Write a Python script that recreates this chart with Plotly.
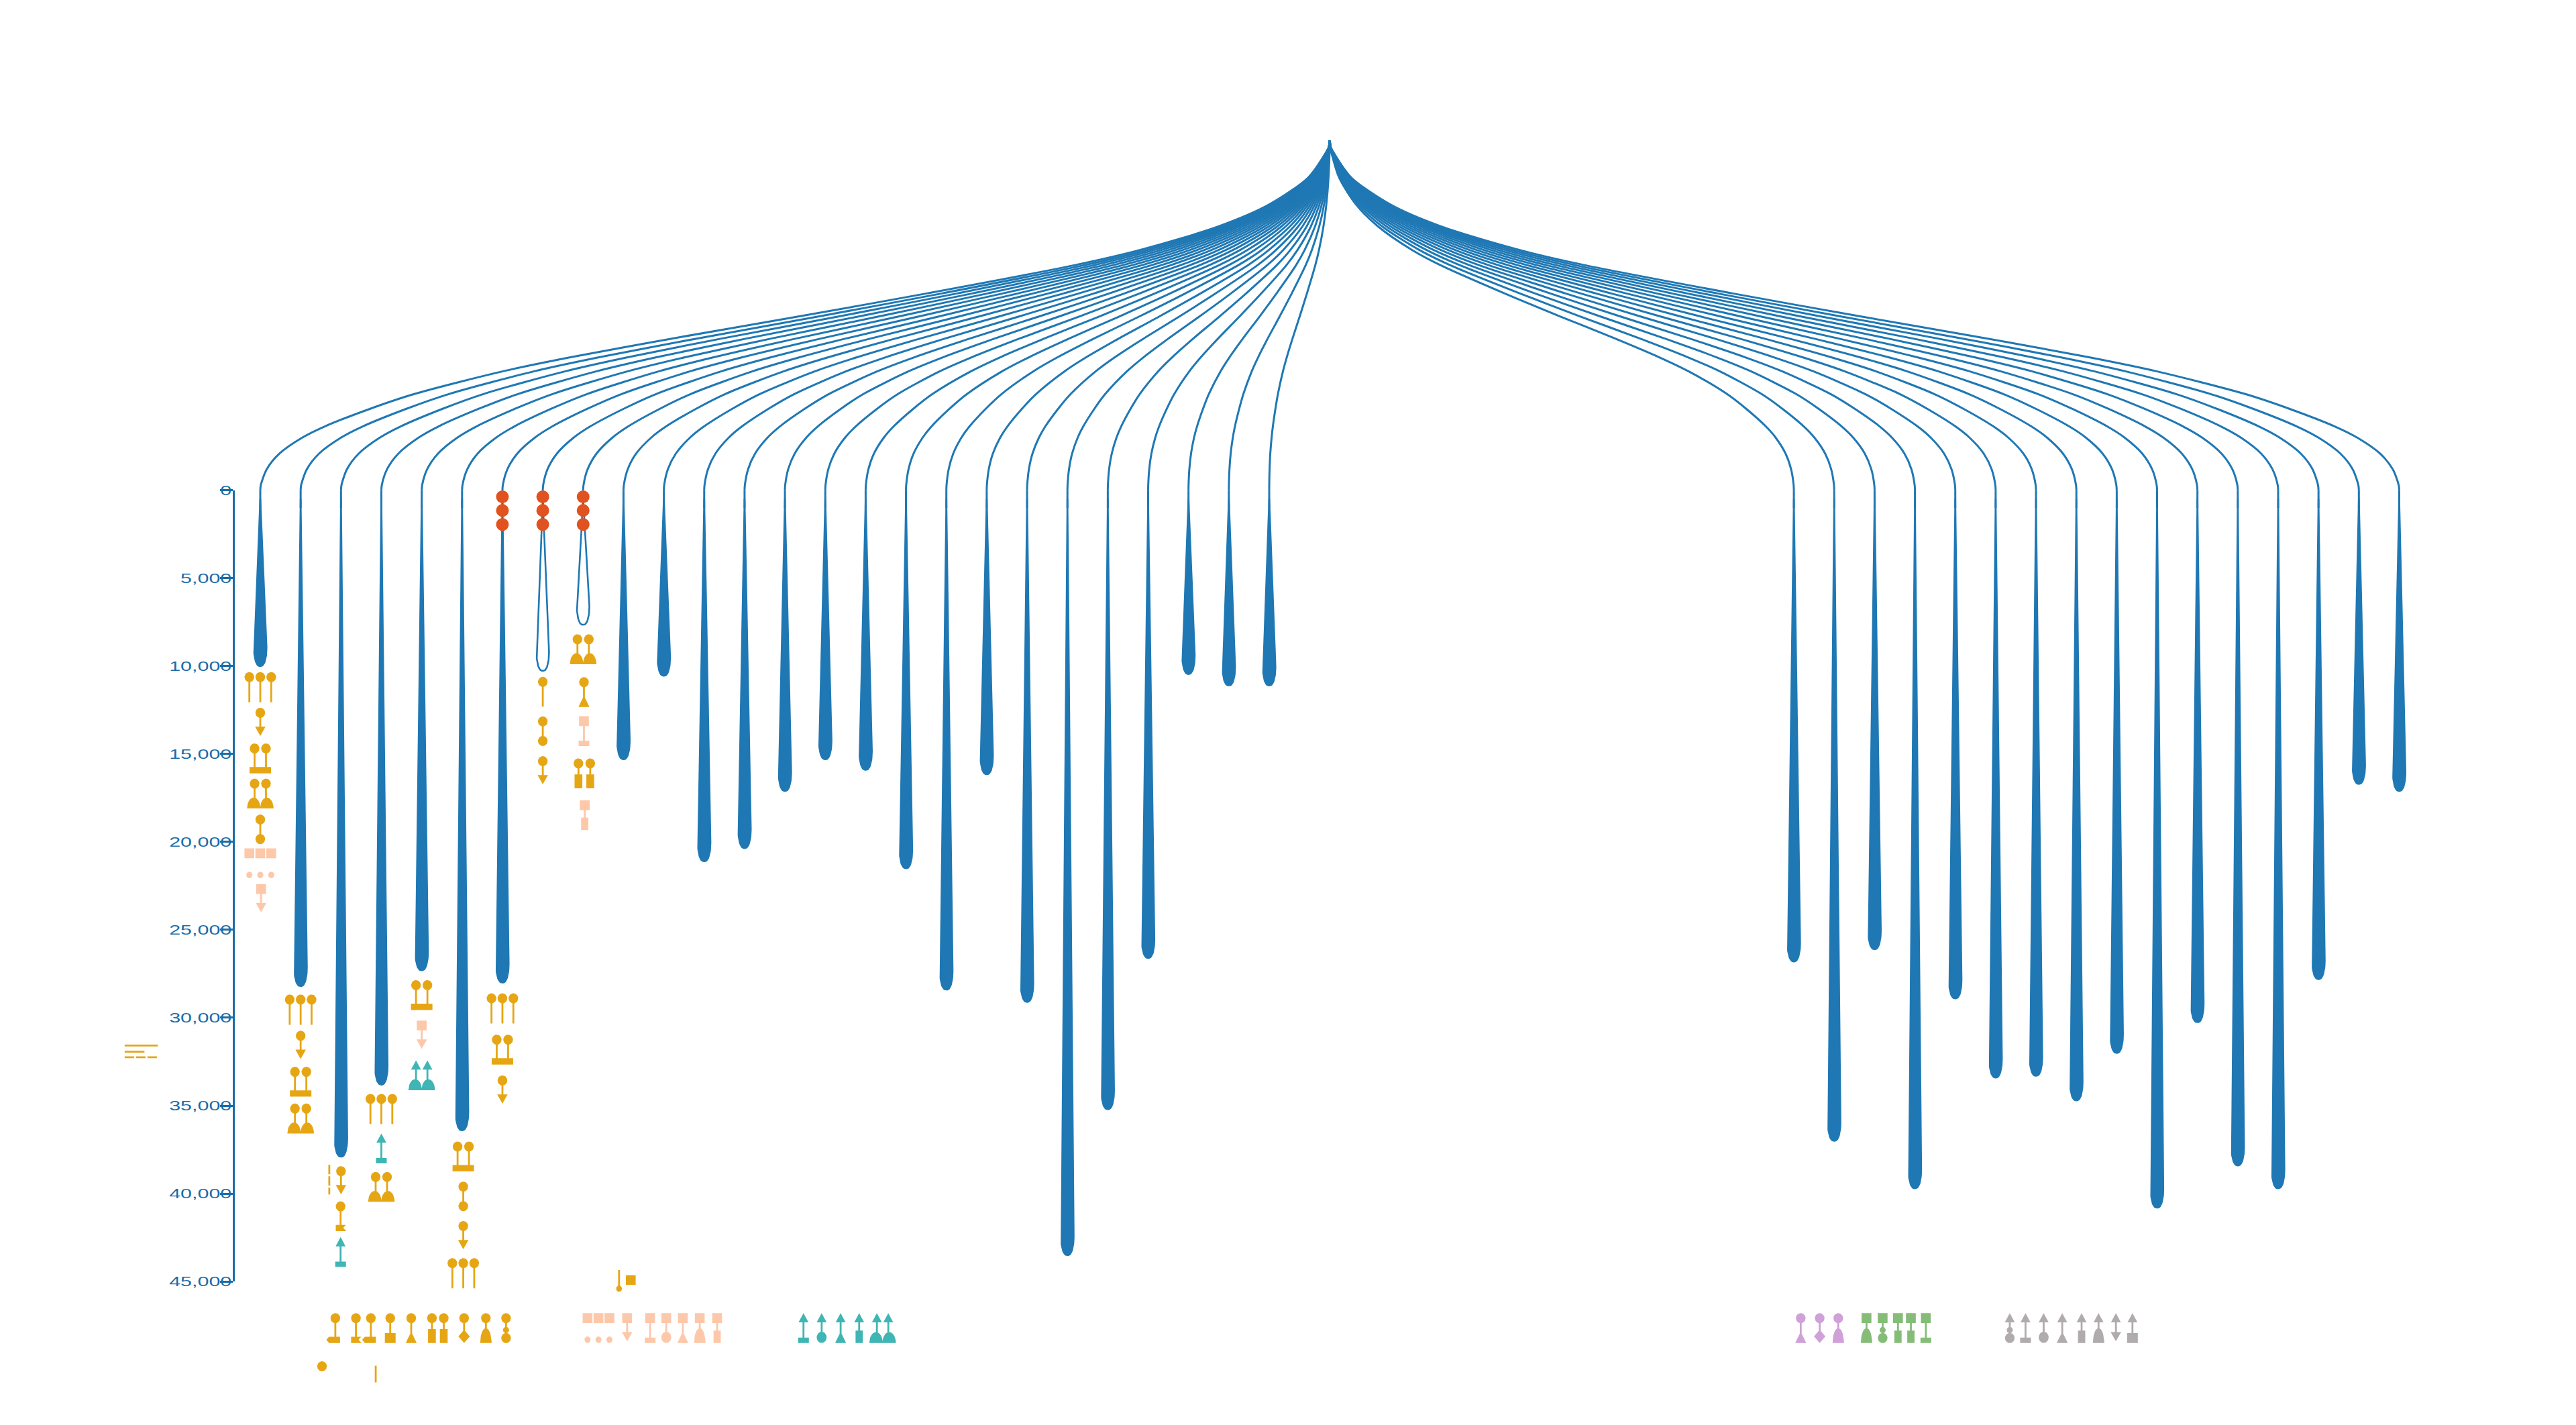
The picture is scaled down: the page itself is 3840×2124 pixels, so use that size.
import math
import plotly.graph_objects as go

# ---------- data ----------
LEFT_SLOTS = list(range(26))
RIGHT_SLOTS = list(range(38, 54))
LEFT_DEPTHS = [10000, 28200, 37900, 33800, 27300, 36400, 28000, 10270, 7650, 15300,
               10550, 21100, 20350, 17100, 15300, 15900, 21500, 28400, 16150, 29100,
               43500, 35200, 26600, 10450, 11100, 11100]
RIGHT_DEPTHS = [26800, 37000, 26100, 39700, 28900, 33400, 33300, 34700, 32000, 40800,
                30250, 38400, 39700, 27800, 16700, 17100]
HOLLOW_SLOTS = [7, 8]
ROOT_SLOT = 26.5
ROOT_VALUE = -19900
LINK_X = [0, .001, .004, .02, .057, .104, .177, .239, .376, .496, .616, .71, .773, .856, .898, .94, .961, .982, .994, .9995, 1]
LINK_Y = [0, .02, .037, .106, .184, .246, .313, .357, .437, .503, .567, .62, .66, .725, .768, .818, .85, .895, .94, .985, 1]
RED_SLOTS = [6, 7, 8]
RED_VALUES = [370, 1150, 1950]
TICK_VALUES = [0, 5000, 10000, 15000, 20000, 25000, 30000, 35000, 40000, 45000]
TICK_LABELS = ["0", "5,000", "10,000", "15,000", "20,000", "25,000", "30,000", "35,000", "40,000", "45,000"]
ROW = 46800

ORANGE_GLYPHS = [
    (0, 10340, "3c"), (0, 12370, "c:arrow"), (0, 14400, "2c:bar"), (0, 16400, "2c:dome"), (0, 18440, "c:c"),
    (7, 10610, "c:line"), (7, 12860, "c:c"), (7, 15120, "c:arrow"),
    (8, 8190, "2c:dome"), (8.02, 10630, "c:tri"), (8.03, 15250, "2c:rect"),
    (1, 28680, "3c"), (1, 30740, "c:arrow"), (1, 32790, "2c:bar"), (1, 34880, "2c:dome"),
    (2, 38440, "c:arrow"), (1.99, 40440, "c:notch"),
    (3, 34330, "3c"), (3, 38770, "2c:dome"),
    (4, 27860, "2c:bar"),
    (5.03, 37040, "2c:bar"), (5.03, 39320, "c:c"), (5.03, 41560, "c:arrow"), (5.03, 43670, "3c"),
    (6, 28610, "3c"), (6, 30960, "2c:bar"), (6, 33280, "c:arrow"),
    (1.86, ROW, "c:pent"), (2.37, ROW, "c:notch"), (2.74, ROW, "c:lpoint"), (3.22, ROW, "c:sq"),
    (3.74, ROW, "c:tri"), (4.40, ROW, "2c:rect"), (5.05, ROW, "c:diamond"), (5.59, ROW, "c:bell"),
    (6.09, ROW, "c:oC"),
    (8.89, 44350, "invlol"), (9.18, 44640, "s"), (1.53, 49540, "c"),
]
PEACH_GLYPHS = [
    (0, 20370, "3s:3o"), (0.02, 22400, "s:arrow"), (8.02, 12850, "s:bar"), (8.04, 17630, "s:rect"),
    (4, 30160, "s:arrow"),
    (8.38, ROW, "3s:3o"), (9.09, ROW, "s:arrow"), (9.66, ROW, "s:bar"), (10.06, ROW, "s:circ"),
    (10.47, ROW, "s:tri"), (10.89, ROW, "s:bell"), (11.32, ROW, "s:rect"),
]
TEAL_GLYPHS = [
    (4, 32420, "2t:dome"), (3, 36580, "t:bar"), (1.99, 42470, "t:bar"),
    (13.46, ROW, "t:bar"), (13.91, ROW, "t:circ"), (14.38, ROW, "t:tri"), (14.84, ROW, "t:rect"),
    (15.42, ROW, "2t:dome"),
]
PURPLE_GLYPHS = [(38.17, ROW, "c:tri"), (38.64, ROW, "c:diamond"), (39.10, ROW, "c:bell")]
GREEN_GLYPHS = [(39.80, ROW, "s:bell"), (40.20, ROW, "s:oC"), (40.58, ROW, "s:rect"),
                (40.90, ROW, "s:rect"), (41.27, ROW, "s:bar")]
GREY_GLYPHS = [(43.35, ROW, "t:oC"), (43.74, ROW, "t:bar"), (44.19, ROW, "t:circ"), (44.65, ROW, "t:tri"),
               (45.13, ROW, "t:rect"), (45.55, ROW, "t:bell"), (45.98, ROW, "t:arrow"), (46.39, ROW, "t:sq")]

BLUE = "#1f78b4"
AXIS_BLUE = "#1b6ca8"
ORANGE = "#e6a614"
PEACH = "#fdc8a9"
TEAL = "#3fb5b4"
PURPLE = "#d0a0d8"
GREEN = "#85bd78"
GREY = "#b0abad"
RED = "#e0521f"

# ---------- scales (screen size of one axis unit) ----------
PX_SLOT = 60.16
PX_VALUE = 26.495 / 1000
SLOT0_PX = 388.0
VALUE0_PX = 726.6
W, H = 3840, 2124
STEM = 2.8


def arc(cx, cy, rx, ry, a0=0.0, a1=360.0, n=28):
    out = []
    for i in range(n + 1):
        a = math.radians(a0 + (a1 - a0) * i / n)
        out.append((cx + rx * math.cos(a), cy + ry * math.sin(a)))
    return out


def rect(cx, top, w, h):
    return [(cx - w / 2, top), (cx + w / 2, top), (cx + w / 2, top + h), (cx - w / 2, top + h)]


def bell(cx, bottom, w, h):
    return arc(cx, bottom, w / 2, h, 180, 360, 20)


def head_parts(head, dx=0.0):
    if head == "c":
        return [arc(dx, 7.6, 7.2, 7.6)]
    if head == "s":
        return [rect(dx, 0, 14.6, 14.8)]
    if head == "t":
        return [[(dx, 0), (dx + 7.4, 14), (dx - 7.4, 14)]]
    return []


def foot_parts(foot, dx=0.0):
    stem_to = 40
    p = []
    b = 45.0
    if foot == "line":
        stem_to = b
    elif foot == "arrow":
        stem_to = 30
        p.append([(dx - 7.8, 28.5), (dx + 7.8, 28.5), (dx, 42.5)])
    elif foot == "c":
        stem_to = 30
        p.append(arc(dx, 37, 7.2, 7.6))
    elif foot == "circ":
        stem_to = 30
        p.append(arc(dx, 36.5, 7.4, 8.5))
    elif foot == "tri":
        stem_to = 32
        p.append([(dx, 28), (dx + 8.2, b), (dx - 8.2, b)])
    elif foot == "bell":
        stem_to = 28
        p.append(bell(dx, b, 17, 22.5))
    elif foot == "diamond":
        stem_to = 28
        p.append([(dx, 25), (dx + 8.5, 35), (dx, b), (dx - 8.5, 35)])
    elif foot == "sq":
        stem_to = 32
        p.append(rect(dx, 30, 16, 15))
    elif foot == "rect":
        stem_to = 28
        p.append(rect(dx, 26.2, 10.8, 18.8))
    elif foot == "bar":
        stem_to = 38
        p.append(rect(dx, 37, 16, 8))
    elif foot == "oC":
        stem_to = 30
        p.append(arc(dx, 25.5, 4.6, 4.8))
        p.append(arc(dx, 37.5, 7.2, 7.6))
    elif foot == "notch":
        stem_to = 38
        p.append([(dx - 7.2, 35.5), (dx + 7.8, 35.5), (dx + 4, 40.2), (dx + 8.5, 45), (dx - 7.2, 45)])
    elif foot == "pent":
        stem_to = 38
        p.append([(dx - 13.4, 40.2), (dx - 9.5, 35.5), (dx + 7, 35.5), (dx + 7, 45), (dx - 9.5, 45)])
    elif foot == "lpoint":
        stem_to = 38
        p.append([(dx - 13, 40.2), (dx - 9, 35.5), (dx + 7.5, 35.5), (dx + 7.5, 45), (dx - 9, 45)])
    return p, stem_to


def glyph_polys(kind):
    polys = []
    if kind == "invlol":
        polys.append(rect(0, 0, STEM, 28))
        polys.append(arc(0, 28, 4.4, 4.8))
        return polys
    if ":" not in kind:
        if kind in ("c", "s"):
            return head_parts(kind)
        if kind == "3c":
            for dx in (-16.3, 0, 16.3):
                polys += head_parts("c", dx)
                polys.append(rect(dx, 8, STEM, 37.5))
        return polys
    head, foot = kind.split(":")
    if head == "2c" and foot == "bar":
        for dx in (-8.5, 8.5):
            polys += head_parts("c", dx)
            polys.append(rect(dx, 8, STEM, 30))
        polys.append(rect(0, 35.5, 32, 9.5))
    elif head in ("2c", "2t") and foot == "dome":
        h = head[1]
        for dx in (-8.5, 8.5):
            polys += head_parts(h, dx)
            polys.append(rect(dx, 8, STEM, 24))
            polys.append(bell(dx * 1.15, 45, 20, 16.5))
    elif head == "2c" and foot == "rect":
        for dx in (-8.8, 8.8):
            polys += head_parts("c", dx)
            polys.append(rect(dx, 8, STEM, 20))
            polys.append(rect(dx, 24, 11.6, 21))
    elif head == "3s":
        for dx in (-16.3, 0, 16.3):
            polys += head_parts("s", dx)
            polys.append(arc(dx, 40, 4.6, 5))
    else:
        polys += head_parts(head)
        fp, stem_to = foot_parts(foot)
        polys.append(rect(0, 8, STEM, stem_to - 8))
        polys += fp
    return polys


def glyph_trace(rows, colour):
    xs, ys = [], []
    for slot, value, kind in rows:
        for poly in glyph_polys(kind):
            area = sum(poly[i][0] * poly[(i + 1) % len(poly)][1] - poly[(i + 1) % len(poly)][0] * poly[i][1]
                       for i in range(len(poly)))
            pts = poly if area > 0 else poly[::-1]
            pts = list(pts) + [pts[0]]
            xs += [slot + p[0] / PX_SLOT for p in pts] + [None]
            ys += [value + p[1] / PX_VALUE for p in pts] + [None]
    return go.Scatter(x=xs, y=ys, mode="lines", fill="toself", fillcolor=colour,
                      line=dict(width=0, color=colour), hoverinfo="skip", showlegend=False)


def drop_points(slot, depth):
    half = 9.3 / PX_SLOT
    cap = 1050
    start = 500
    n = 30
    left, right = [], []
    for i in range(n + 1):
        y = start + (depth - cap - start) * i / n
        w = half * i / n
        left.append((slot - w, y))
        right.append((slot + w, y))
    for i in range(1, 17):
        a = math.pi / 2 * i / 16
        y = depth - cap + cap * math.sin(a)
        w = half * math.cos(a) ** 0.8
        left.append((slot - w, y))
        right.append((slot + w, y))
    pts = left + right[::-1] + [left[0]]
    return [p[0] for p in pts], [p[1] for p in pts]


fig = go.Figure()
all_slots = LEFT_SLOTS + RIGHT_SLOTS
all_depths = LEFT_DEPTHS + RIGHT_DEPTHS

# connectors
lx, ly = [], []
for s in all_slots:
    lx += [ROOT_SLOT + (s - ROOT_SLOT) * f for f in LINK_X] + [None]
    ly += [ROOT_VALUE * (1 - f) for f in LINK_Y] + [None]
fig.add_trace(go.Scatter(x=lx, y=ly, mode="lines", line=dict(color=BLUE, width=3, shape="spline", smoothing=0.8),
                         hoverinfo="skip", showlegend=False))

# stems and teardrops
sx, sy = [], []
for s in all_slots:
    sx += [s, s, None]
    sy += [0, 1000, None]
fig.add_trace(go.Scatter(x=sx, y=sy, mode="lines", line=dict(color=BLUE, width=3),
                         hoverinfo="skip", showlegend=False))
for s, d in zip(all_slots, all_depths):
    xs, ys = drop_points(s, d)
    hollow = s in HOLLOW_SLOTS
    fig.add_trace(go.Scatter(x=xs, y=ys, mode="lines", fill="toself",
                             fillcolor="#ffffff" if hollow else BLUE,
                             line=dict(color=BLUE, width=2.6),
                             hoverinfo="skip", showlegend=False))

# glyphs
for rows, colour in [(ORANGE_GLYPHS, ORANGE), (PEACH_GLYPHS, PEACH), (TEAL_GLYPHS, TEAL),
                     (PURPLE_GLYPHS, PURPLE), (GREEN_GLYPHS, GREEN), (GREY_GLYPHS, GREY)]:
    fig.add_trace(glyph_trace(rows, colour))

# red circles
fig.add_trace(go.Scatter(
    x=[s for s in RED_SLOTS for _ in RED_VALUES], y=RED_VALUES * len(RED_SLOTS), mode="markers",
    marker=dict(color=RED, size=19, line=dict(width=0)), hoverinfo="skip", showlegend=False))

# small stray strokes
for x, y, dash in [([-3.36, -2.54], [31580, 31580], "solid"),
                   ([-3.36, -2.87], [31930, 31930], "solid"),
                   ([-3.36, -2.54], [32250, 32250], "14px,3px"),
                   ([1.71, 1.71], [38370, 40050], "14px,3px"),
                   ([2.86, 2.86], [49790, 50740], "solid")]:
    fig.add_trace(go.Scatter(x=x, y=y, mode="lines", line=dict(color=ORANGE, width=2.8, dash=dash),
                             hoverinfo="skip", showlegend=False))

fig.update_layout(
    width=W, height=H, autosize=False,
    margin=dict(l=0, r=0, t=0, b=0),
    paper_bgcolor="white", plot_bgcolor="rgba(0,0,0,0)", showlegend=False,
    xaxis=dict(domain=[0, 1], range=[-SLOT0_PX / PX_SLOT, (W - SLOT0_PX) / PX_SLOT], visible=False, fixedrange=True),
    yaxis=dict(domain=[0, 1], range=[(H - VALUE0_PX) / PX_VALUE, -VALUE0_PX / PX_VALUE], visible=False, fixedrange=True),
    yaxis2=dict(
        domain=[1 - (VALUE0_PX + 45000 * PX_VALUE) / H, 1 - VALUE0_PX / H],
        range=[45000, 0], anchor="free", position=347.5 / W,
        side="left", showgrid=False, zeroline=False, showline=True, linecolor=AXIS_BLUE, linewidth=3,
        ticks="outside", ticklen=19, tickwidth=2.6, tickcolor=AXIS_BLUE,
        tickmode="array", tickvals=TICK_VALUES, ticktext=TICK_LABELS,
        ticklabelstandoff=-22,
        tickfont=dict(family="Liberation Sans", size=21, color=AXIS_BLUE), fixedrange=True),
)
# an invisible trace binds the visible value axis
fig.add_trace(go.Scatter(x=[0], y=[0], yaxis="y2", mode="markers", marker=dict(size=1, opacity=0),
                         hoverinfo="skip", showlegend=False))

widen = """
document.body.style.margin='0';
document.querySelectorAll('g.y2tick text').forEach(function(t){
  t.setAttribute('textLength', t.getComputedTextLength()*1.45);
  t.setAttribute('lengthAdjust','spacingAndGlyphs');
});
"""
fig.write_html("out.html", post_script=widen, config={"displayModeBar": False})
